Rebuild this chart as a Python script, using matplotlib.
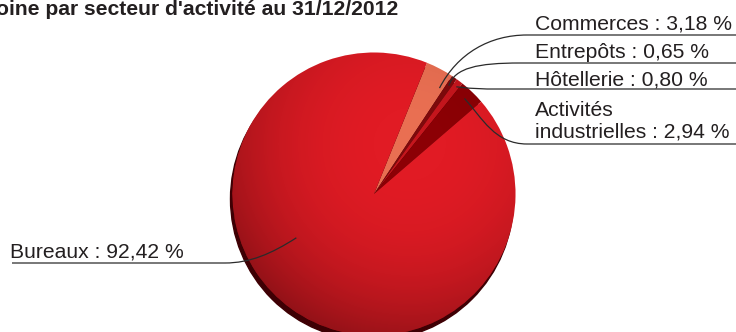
import numpy as np
import matplotlib
matplotlib.use("Agg")
import matplotlib.pyplot as plt
from matplotlib.patches import Circle, PathPatch
from matplotlib.path import Path

# data
sectors = ["Commerces", "Entrepôts", "Hôtellerie", "Activités\nindustrielles", "Bureaux"]
shares = [3.18, 0.65, 0.80, 2.94, 92.42]
share_labels = ["3,18 %", "0,65 %", "0,80 %", "2,94 %", "92,42 %"]
colors = ["#E96F52", "#7E0A0C", "#C5161D", "#8C0005", "#E11B24"]
title = "oine par secteur d'activité au 31/12/2012"

W, H = 736, 332
cx, cy, r = 374, 194, 141.5
start = 68  # screen angle (deg, ccw from +x) where Commerces begins
text_col = "#231F20"

plt.rcParams['font.family'] = ['Liberation Sans', 'DejaVu Sans']

fig = plt.figure(figsize=(W / 100, H / 100), dpi=100)
ax = fig.add_axes([0, 0, 1, 1])

# dark shadow under the pie (lower left)
ax.add_patch(Circle((cx - 2, cy + 5), r, color="#3E0004", zorder=1))

# y axis is inverted below, so clockwise on screen = counterclockwise in data
wedges, _ = ax.pie(shares, colors=colors, startangle=-start, counterclock=True,
                   center=(cx, cy), radius=r,
                   wedgeprops=dict(linewidth=0, zorder=2))

# shading to give the pie a rounded look
n = 300
u, v = np.meshgrid(np.linspace(-1, 1, n), np.linspace(-1, 1, n))
d = np.sqrt((u - 0.25) ** 2 + (v + 0.35) ** 2)
alpha = 0.36 * np.clip(d / 1.45, 0, 1) ** 2.6
shade = np.zeros((n, n, 4))
shade[..., 3] = alpha
img = ax.imshow(shade, extent=(cx - r, cx + r, cy + r, cy - r), origin="upper",
                zorder=3, interpolation="bilinear")
clip = Circle((cx, cy), r, transform=ax.transData)
img.set_clip_path(clip)


def anchor(i, frac, rad):
    w = wedges[i]
    th = np.deg2rad(w.theta1 + frac * (w.theta2 - w.theta1))
    return cx + rad * r * np.cos(th), cy + rad * r * np.sin(th)


def leader(p0, c1, c2, p3, end_x):
    verts = [p0, c1, c2, p3, (end_x, p3[1])]
    codes = [Path.MOVETO, Path.CURVE4, Path.CURVE4, Path.CURVE4, Path.LINETO]
    ax.add_patch(PathPatch(Path(verts, codes), fill=False, edgecolor="#2B2B2B",
                           linewidth=0.9, zorder=5))


# label layout: (text x, text baseline y, underline y)
fs = 15.2
label_pos = [(535, 30, 35), (535, 58, 63), (535, 85, 89), (535, 138, 144)]
anchors = [anchor(0, 0.85, 0.88), anchor(1, 0.5, 0.93), anchor(2, 0.6, 0.955),
           anchor(3, 0.45, 0.93)]

for i in range(4):
    tx, ty, uy = label_pos[i]
    ax.text(tx, ty, f"{sectors[i]} : {share_labels[i]}", fontsize=fs,
            color=text_col, va="baseline", ha="left", zorder=6,
            linespacing=1.2)

# leader lines
a = anchors[0]
leader(a, (a[0] + 18, a[1] - 35), (490, 35), (527, 35), W)
a = anchors[1]
leader(a, (a[0] + 6, a[1] - 18), (478, 63), (520, 63), W)
a = anchors[2]
leader(a, (a[0] + 20, 89), (480, 89), (500, 89), W)
a = anchors[3]
leader(a, (a[0] + 18, a[1] + 20), (495, 144), (527, 144), W)

# Bureaux
ax.text(10, 258, f"Bureaux : {share_labels[4]}", fontsize=fs, color=text_col,
        va="baseline", ha="left", zorder=6)
a = anchor(4, 0.575, 0.63)
leader(a, (a[0] - 25, a[1] + 16), (250, 263), (225, 263), 12)

# title (cut at the top edge like the reference)
ax.text(-4, 15, title, fontsize=15.2, fontweight="bold", color=text_col,
        va="baseline", ha="left", zorder=6)

ax.set_xlim(0, W)
ax.set_ylim(H, 0)
ax.set_aspect("equal")
ax.axis("off")

fig.savefig("out.png", dpi=100)
